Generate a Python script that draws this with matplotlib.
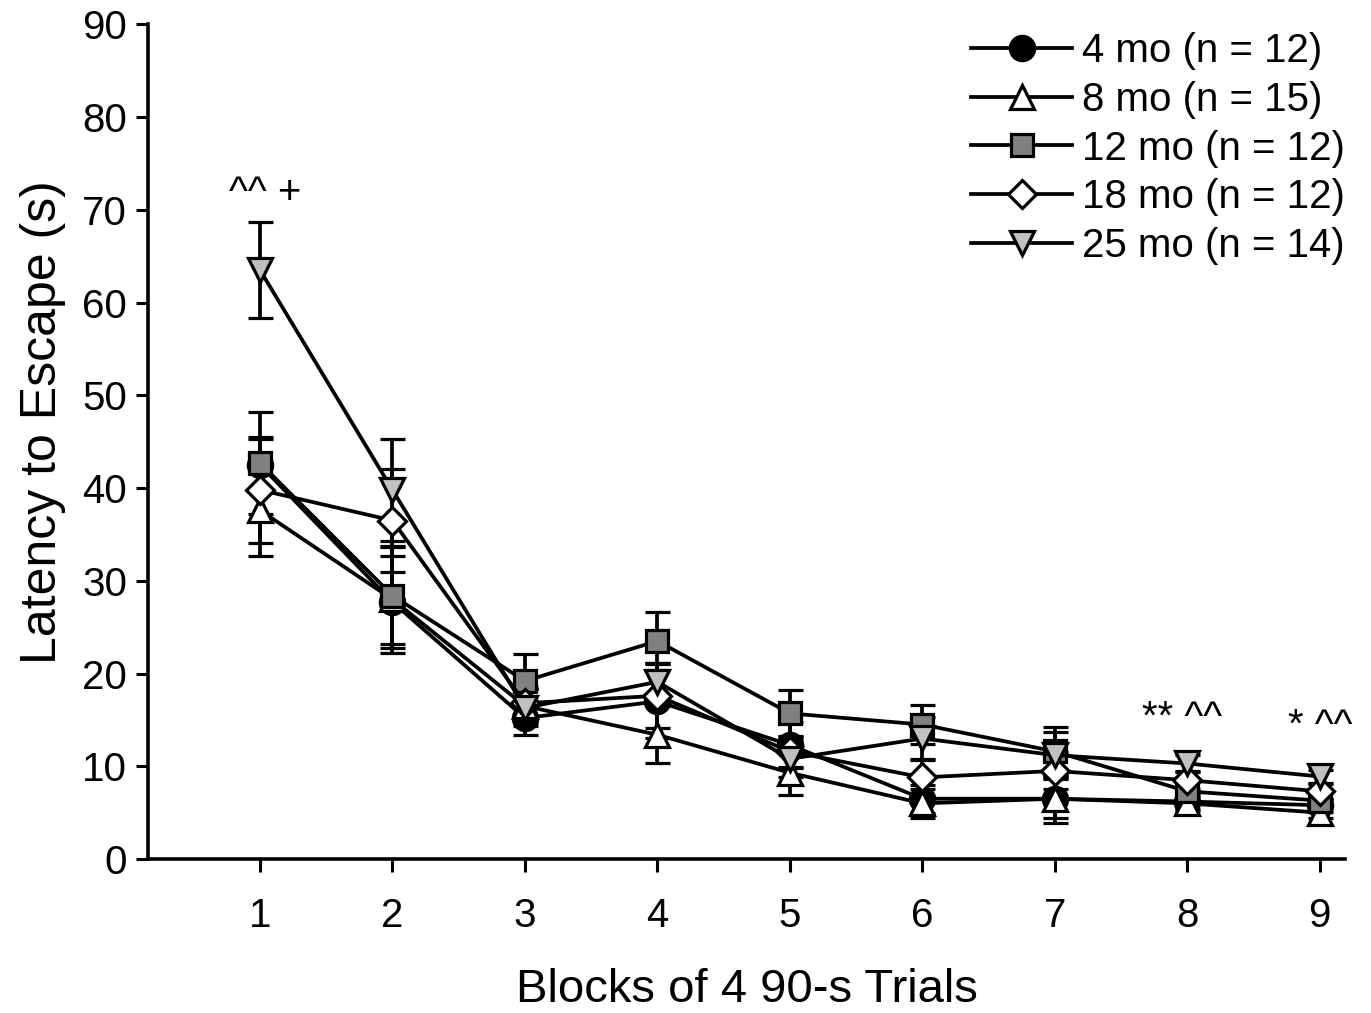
import matplotlib
matplotlib.use("Agg")
import matplotlib.pyplot as plt
from matplotlib import font_manager
from matplotlib.lines import Line2D

# Mean escape latency (s) per block of trials, with SEM, for each age group
blocks = [1, 2, 3, 4, 5, 6, 7, 8, 9]
labels = ["4 mo (n = 12)", "8 mo (n = 15)", "12 mo (n = 12)",
          "18 mo (n = 12)", "25 mo (n = 14)"]

mo4 = [42.5, 27.7, 15.2, 17.0, 12.3, 6.5, 6.5, 6.2, 5.8]
mo8 = [37.6, 28.0, 16.5, 13.4, 9.3, 6.0, 6.5, 6.0, 5.0]
mo12 = [42.7, 28.4, 19.2, 23.5, 15.7, 14.5, 11.6, 7.3, 6.3]
mo18 = [39.8, 36.5, 16.8, 17.6, 11.6, 8.8, 9.5, 8.5, 7.3]
mo25 = [63.5, 39.8, 16.3, 19.1, 10.8, 13.0, 11.2, 10.3, 8.9]

sem4 = [2.8, 5.0, 1.8, 4.0, 2.5, 1.5, 2.1, 0.8, 0.7]
sem8 = [4.9, 5.8, 1.8, 3.1, 2.4, 1.6, 2.6, 0.8, 0.6]
sem12 = [5.5, 5.2, 2.9, 3.1, 2.5, 2.1, 2.6, 1.0, 0.8]
sem18 = [5.7, 5.5, 1.8, 3.5, 1.7, 2.0, 2.0, 1.0, 0.8]
sem25 = [5.2, 5.5, 2.0, 2.0, 2.0, 2.3, 2.5, 0.9, 0.7]

yticks = [0, 10, 20, 30, 40, 50, 60, 70, 80, 90]

names = {f.name for f in font_manager.fontManager.ttflist}
base_font = "Liberation Sans" if "Liberation Sans" in names else "DejaVu Sans"
plt.rcParams["font.family"] = base_font

fig = plt.figure(figsize=(13.71, 10.13), dpi=100)
ax = fig.add_axes([0.108, 0.152, 0.873, 0.824])

styles = [
    (mo4, sem4, "o", "black", 17.5),
    (mo8, sem8, "^", "white", 17.5),
    (mo12, sem12, "s", "#808080", 15.5),
    (mo18, sem18, "D", "white", 14.5),
    (mo25, sem25, "v", "#c0c0c0", 17.5),
]

handles = []
for (vals, sem, mk, fc, ms), lab in zip(styles, labels):
    ax.errorbar(blocks, vals, yerr=sem, color="black", lw=2.7,
                marker=mk, markersize=ms, markerfacecolor=fc,
                markeredgecolor="black", markeredgewidth=2.3,
                elinewidth=2.7, capsize=9, capthick=2.8)
    handles.append(Line2D([], [], color="black", lw=2.7, marker=mk,
                          markersize=ms, markerfacecolor=fc,
                          markeredgecolor="black", markeredgewidth=2.3,
                          label=lab))

# Significance markers
ax.text(1.04, 71.8, "^^ +", ha="center", va="center", fontsize=29)
ax.text(7.96, 15.2, "** ^^", ha="center", va="center", fontsize=29)
ax.text(9.0, 14.3, "* ^^", ha="center", va="center", fontsize=29)

ax.set_xlim(0.155, 9.19)
ax.set_ylim(0, 90)
ax.set_xticks(blocks)
ax.set_yticks(yticks)
ax.tick_params(axis="both", direction="out", labelsize=29, width=2.2,
               length=9, color="black")
ax.tick_params(axis="x", pad=18)
ax.tick_params(axis="y", pad=6)

for side in ("top", "right"):
    ax.spines[side].set_visible(False)
for side in ("left", "bottom"):
    ax.spines[side].set_linewidth(2.6)

ax.set_xlabel("Blocks of 4 90-s Trials", fontsize=34, labelpad=24)
ax.set_ylabel("Latency to Escape (s)", fontsize=36, labelpad=12)
ax.yaxis.label.set_y(0.523)

ax.legend(handles=handles, loc="upper right", bbox_to_anchor=(1.0, 0.991),
          frameon=False, fontsize=29, handlelength=2.5, handletextpad=0.25,
          labelspacing=0.27, borderaxespad=0.0, borderpad=0.0)

fig.savefig("out.png", dpi=100)
